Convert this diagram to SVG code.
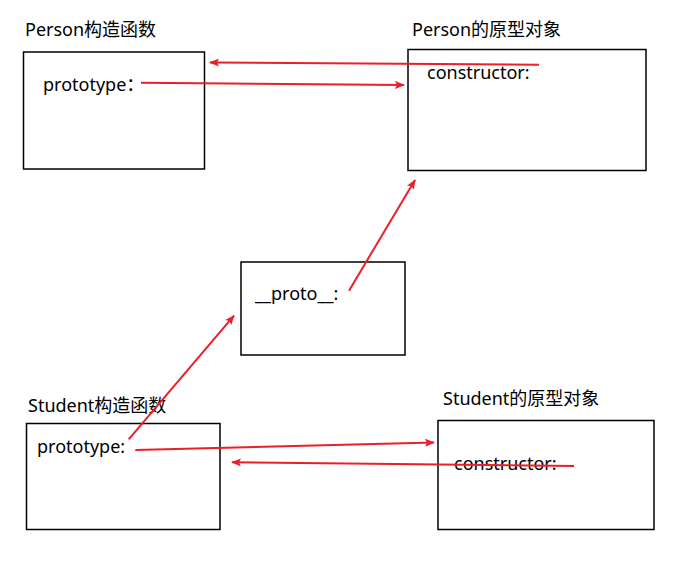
<svg xmlns="http://www.w3.org/2000/svg" width="687" height="585" viewBox="0 0 687 585">
<style>
.box{fill:#fff;stroke:#000;stroke-width:1.5}
.t{font-family:"Noto Sans","Noto Sans CJK SC",sans-serif;font-size:18px;fill:#000}
.a{stroke:#ea1f27;stroke-width:2;fill:none;marker-end:url(#ah)}
</style>
<defs>
<marker id="ah" viewBox="0 0 10 8" refX="9" refY="4" markerWidth="10" markerHeight="8" markerUnits="userSpaceOnUse" orient="auto">
<path d="M0,0 L10,4 L0,8 L2,4 Z" fill="#ea1f27"/>
</marker>
</defs>
<rect width="687" height="585" fill="#fff"/>
<g id="person-ctor">
<text class="t" x="25" y="36">Person构造函数</text>
<rect class="box" x="23.5" y="52" width="181" height="117"/>
<text class="t" x="43" y="91">prototype：</text>
</g>
<g id="person-proto">
<text class="t" x="412" y="36">Person的原型对象</text>
<rect class="box" x="408" y="49.5" width="238" height="121"/>
<text class="t" x="427" y="79">constructor:</text>
</g>
<g id="proto">
<rect class="box" x="241" y="262" width="164" height="93"/>
<text class="t" x="255" y="300">__proto__:</text>
</g>
<g id="student-ctor">
<text class="t" x="28" y="412">Student构造函数</text>
<rect class="box" x="26.5" y="423.5" width="193.5" height="106"/>
<text class="t" x="37" y="453">prototype:</text>
</g>
<g id="student-proto">
<text class="t" x="443" y="405">Student的原型对象</text>
<rect class="box" x="438" y="420.5" width="216" height="109"/>
<text class="t" x="454" y="470">constructor:</text>
</g>
<g id="connectors">
<line class="a" x1="539" y1="64.7" x2="210" y2="62.5"/>
<line class="a" x1="141" y1="82.7" x2="404" y2="85"/>
<line class="a" x1="349" y1="290.7" x2="415" y2="180"/>
<line class="a" x1="128.7" y1="439.3" x2="234" y2="315.7"/>
<line class="a" x1="135.3" y1="450" x2="434" y2="442.5"/>
<line class="a" x1="574" y1="466" x2="232" y2="462.3"/>
</g>
</svg>
